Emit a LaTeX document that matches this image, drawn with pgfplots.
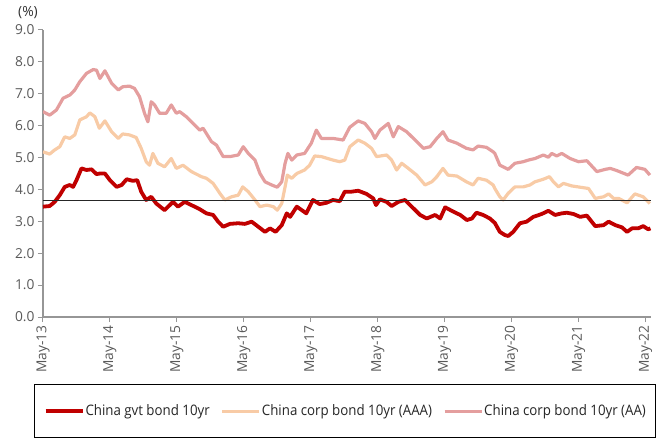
\documentclass[border=0pt]{standalone}
\usepackage{fontspec}
\setmainfont{Open Sans}
\newfontfamily\legfont[FakeStretch=0.92]{Open Sans}
\usepackage{pgfplots}
\pgfplotsset{compat=1.18}
\definecolor{govt}{RGB}{192,0,0}
\definecolor{aaa}{RGB}{248,203,166}
\definecolor{aa}{RGB}{228,158,158}
\definecolor{tickgray}{RGB}{89,89,89}
\definecolor{axgray}{RGB}{150,150,150}
\begin{document}
\begin{tikzpicture}
\useasboundingbox (0,0) rectangle (658bp,441bp);
\begin{axis}[
  scale only axis, width=608bp, height=287bp,
  at={(43bp,124bp)}, anchor=south west,
  xmin=0, xmax=109, ymin=0, ymax=9,
  axis x line*=bottom, axis y line*=left,
  xtick={0,12,...,108},
  xticklabels={May-13,May-14,May-15,May-16,May-17,May-18,May-19,May-20,May-21,May-22},
  ytick={0,1,...,9},
  tick align=outside, major tick length=5bp,
  tick style={axgray, line width=1bp},
  axis line style={axgray, line width=1.2bp},
  /pgf/number format/assume math mode=true,
  /pgf/number format/.cd, fixed, fixed zerofill, precision=1, /pgfplots/.cd,
  ticklabel style={font=\fontsize{13.8}{15}\selectfont, text=tickgray},
  xticklabel style={rotate=90, anchor=east},
  legend columns=3,
  legend cell align=left,
  legend style={at={(axis description cs:-0.0143,-0.2334)}, anchor=north west,
    draw=black, line width=0.8bp, inner xsep=9bp, inner ysep=18.5bp,
    font=\legfont\fontsize{14.5}{16}\selectfont, text=black!85,
    nodes={inner xsep=1bp, inner ysep=2bp},
    /tikz/every even column/.append style={column sep=10bp}},
  legend image code/.code={\draw[#1] (0bp,0bp) -- (37bp,0bp);},
]
\addplot[govt, line width=3.8bp, line join=round] coordinates {
(0,3.46) (1.2,3.48) (2.1,3.61) (3.0,3.82) (3.9,4.08) (4.8,4.14) (5.4,4.08) (6.0,4.29)
(6.9,4.66) (7.8,4.61) (8.7,4.63) (9.6,4.48) (10.2,4.50) (11.1,4.50) (12.0,4.29) (13.2,4.08)
(14.1,4.14) (15.0,4.32) (16.1,4.27) (16.9,4.29) (17.6,3.93) (18.5,3.67) (19.4,3.77) (20.3,3.56)
(21.8,3.35) (23.3,3.61) (24.2,3.46) (25.4,3.61) (26.6,3.51) (28.1,3.38) (29.3,3.25) (30.5,3.20)
(31.4,2.99) (32.3,2.83) (33.5,2.92) (35.0,2.94) (36.2,2.92) (37.4,2.99) (38.6,2.83) (39.8,2.67)
(40.7,2.78) (41.7,2.67) (42.8,2.88) (43.7,3.25) (44.3,3.14) (45.5,3.46) (46.4,3.35) (47.2,3.25)
(48.4,3.67) (49.6,3.54) (50.8,3.58) (52.0,3.67) (53.2,3.63) (54.1,3.93) (55.3,3.93) (56.5,3.96)
(58.0,3.86) (59.2,3.72) (59.7,3.51) (60.4,3.69) (61.6,3.61) (62.5,3.48) (63.7,3.61) (64.9,3.67)
(66.1,3.46) (67.6,3.20) (68.8,3.09) (70.3,3.20) (71.2,3.09) (72.1,3.44) (73.6,3.30) (74.8,3.20)
(76.0,3.04) (76.9,3.09) (77.7,3.27) (78.9,3.20) (80.1,3.09) (81.0,2.95) (81.9,2.67) (82.8,2.57)
(83.4,2.54) (84.3,2.67) (85.5,2.94) (86.7,2.99) (87.9,3.14) (89.4,3.23) (90.6,3.33) (91.8,3.20)
(93.0,3.25) (93.9,3.27) (95.1,3.23) (96.3,3.14) (97.5,3.18) (99.0,2.85) (100.5,2.88) (101.4,2.99)
(102.6,2.88) (103.8,2.81) (104.7,2.67) (105.6,2.78) (106.7,2.78) (107.6,2.85) (108.5,2.75) (108.9,2.78)
};
\addlegendentry{China gvt bond 10yr}
\addplot[aaa, line width=3.2bp, line join=round] coordinates {
(0,5.18) (1.2,5.11) (2.1,5.24) (3.0,5.34) (3.9,5.65) (4.8,5.60) (5.7,5.71) (6.6,6.18)
(7.8,6.28) (8.4,6.40) (9.3,6.28) (10.1,5.92) (11.1,6.15) (12.3,5.81) (13.5,5.60) (14.3,5.74)
(15.5,5.71) (16.7,5.63) (17.6,5.29) (18.5,4.87) (19.1,4.76) (19.7,5.13) (20.6,4.82) (21.8,4.71)
(23.0,4.97) (23.9,4.66) (25.1,4.76) (26.6,4.56) (28.4,4.40) (29.3,4.35) (30.5,4.19) (31.7,3.88)
(32.6,3.67) (33.8,3.77) (35.0,3.82) (35.8,4.08) (36.8,3.93) (38.0,3.67) (38.9,3.46) (40.1,3.51)
(41.3,3.46) (42.0,3.35) (42.8,3.56) (43.4,4.08) (43.8,4.45) (44.6,4.35) (45.5,4.50) (46.9,4.61)
(47.8,4.76) (48.7,5.05) (49.9,5.03) (52.0,4.92) (53.2,4.87) (54.1,4.92) (55.0,5.34) (56.5,5.55)
(57.7,5.45) (58.9,5.29) (59.8,5.03) (61.6,5.08) (62.5,4.92) (63.4,4.61) (64.3,4.82) (65.5,4.66)
(67.0,4.45) (68.5,4.14) (69.7,4.24) (70.6,4.40) (71.7,4.66) (72.6,4.45) (74.2,4.42) (75.9,4.24)
(77.1,4.14) (78.0,4.35) (79.5,4.29) (80.7,4.14) (81.0,4.03) (81.9,3.77) (82.5,3.67) (83.4,3.88)
(84.6,4.08) (86.1,4.08) (87.3,4.14) (88.2,4.24) (89.7,4.32) (90.8,4.40) (91.5,4.24) (92.4,4.08)
(93.3,4.19) (94.8,4.11) (96.3,4.07) (97.8,4.03) (99.0,3.72) (100.5,3.77) (101.4,3.86) (102.3,3.72)
(103.2,3.72) (104.7,3.58) (106.1,3.86) (107.6,3.77) (108.8,3.56)
};
\addlegendentry{China corp bond 10yr (AAA)}
\addplot[aa, line width=3.2bp, line join=round] coordinates {
(0,6.44) (1.2,6.33) (2.4,6.49) (3.6,6.86) (4.8,6.96) (5.7,7.12) (6.6,7.38) (7.8,7.64)
(9.0,7.76) (9.6,7.74) (10.2,7.48) (11.1,7.72) (12.3,7.33) (13.5,7.12) (14.3,7.22) (15.5,7.24)
(16.4,7.17) (17.3,6.91) (18.2,6.39) (18.8,6.12) (19.4,6.75) (20.0,6.65) (20.9,6.39) (22.1,6.39)
(23.0,6.65) (23.9,6.39) (24.5,6.44) (25.7,6.28) (26.9,6.07) (28.1,5.86) (28.7,5.92) (30.2,5.50)
(31.1,5.39) (32.3,5.03) (33.5,5.03) (35.0,5.08) (35.9,5.34) (36.8,5.13) (38.0,4.92) (38.9,4.50)
(39.8,4.24) (41.0,4.14) (42.0,4.07) (42.8,4.24) (43.4,4.82) (43.9,5.13) (44.6,4.92) (45.5,5.08)
(46.9,5.13) (48.1,5.45) (49.0,5.86) (49.9,5.60) (52.0,5.60) (53.8,5.55) (55.0,5.95) (56.5,6.15)
(57.7,6.07) (58.9,5.81) (59.5,5.60) (60.4,5.86) (61.9,6.07) (62.8,5.65) (63.7,5.97) (65.2,5.81)
(66.7,5.55) (68.2,5.29) (69.4,5.34) (70.6,5.60) (71.7,5.81) (72.6,5.55) (74.2,5.45) (75.9,5.29)
(77.1,5.24) (78.0,5.36) (79.5,5.32) (80.7,5.18) (81.0,5.13) (81.9,4.76) (83.4,4.63) (84.6,4.82)
(86.1,4.87) (87.0,4.92) (88.2,4.97) (89.7,5.08) (90.6,5.01) (91.2,5.13) (92.1,5.05) (93.0,5.13)
(94.5,4.97) (96.0,4.87) (97.5,4.90) (99.3,4.56) (100.8,4.63) (101.7,4.66) (102.9,4.59) (104.9,4.45)
(106.4,4.69) (107.9,4.63) (108.8,4.45)
};
\addlegendentry{China corp bond 10yr (AA)}
\addplot[black!85, line width=1.3bp, forget plot] coordinates {(0,3.65) (109,3.65)};
\end{axis}
\node[font=\fontsize{14}{16}\selectfont, text=black!80] at (28bp,428bp) {(\%)};
\end{tikzpicture}
\end{document}
